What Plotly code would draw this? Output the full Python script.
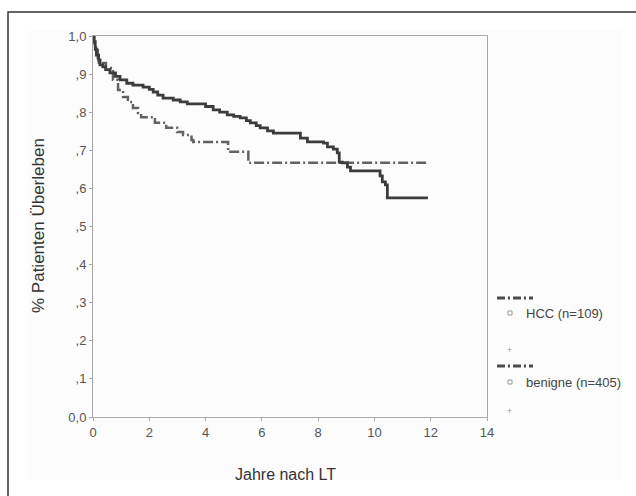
import plotly.graph_objects as go

# ---- data ----
hcc_years = [0, 0.05, 0.11, 0.17, 0.21, 0.46, 0.71, 0.89, 1.07, 1.24, 1.42, 1.60, 1.71,
             2.20, 2.60, 2.99, 3.20, 3.50, 3.56, 4.80, 5.52, 11.9]
hcc_surv = [1.0, 0.98, 0.963, 0.937, 0.929, 0.916, 0.885, 0.858, 0.840, 0.827, 0.811, 0.798, 0.787,
            0.772, 0.759, 0.748, 0.740, 0.727, 0.722, 0.696, 0.667, 0.667]

ben_years = [0, 0.03, 0.08, 0.12, 0.20, 0.25, 0.35, 0.45, 0.60, 0.80, 0.96, 1.20, 1.42, 1.78,
             2.00, 2.14, 2.30, 2.49, 2.85, 3.10, 3.35, 4.00, 4.27, 4.50, 4.77, 5.00, 5.23, 5.45,
             5.59, 5.80, 5.94, 6.20, 6.41, 7.37, 7.62, 8.19, 8.33, 8.54, 8.68, 8.75, 8.86, 9.04,
             9.15, 10.20, 10.28, 10.39, 10.46, 11.9]
ben_surv = [1.0, 0.985, 0.965, 0.950, 0.937, 0.924, 0.919, 0.912, 0.903, 0.894, 0.885, 0.876, 0.871, 0.866,
            0.860, 0.853, 0.845, 0.837, 0.832, 0.827, 0.822, 0.815, 0.806, 0.800, 0.793, 0.789, 0.785, 0.778,
            0.772, 0.765, 0.759, 0.751, 0.745, 0.732, 0.722, 0.719, 0.709, 0.703, 0.693, 0.669, 0.667, 0.656,
            0.646, 0.633, 0.617, 0.609, 0.575, 0.575]

y_tickvals = [0, 0.1, 0.2, 0.3, 0.4, 0.5, 0.6, 0.7, 0.8, 0.9, 1.0]
y_ticktext = ["0,0", ",1", ",2", ",3", ",4", ",5", ",6", ",7", ",8", ",9", "1,0"]
x_tickvals = [0, 2, 4, 6, 8, 10, 12, 14]

legend_labels = ["HCC (n=109)", "benigne (n=405)"]

FONT = "Liberation Sans, Arial, sans-serif"

fig = go.Figure()
fig.add_trace(go.Scatter(x=hcc_years, y=hcc_surv, mode="lines", line_shape="hv",
                         line=dict(color="#626262", width=2.5, dash="10px,3px,2px,3px"),
                         showlegend=False, hoverinfo="skip"))
fig.add_trace(go.Scatter(x=ben_years, y=ben_surv, mode="lines", line_shape="hv",
                         line=dict(color="#3c3c3c", width=2.8),
                         showlegend=False, hoverinfo="skip"))

L, R, T, B = 93, 487, 36, 417
W, H = 636, 496
pw, ph = R - L, B - T


def px(x):
    return (x - L) / pw


def py(y):
    return (B - y) / ph


shapes = [
    # light background panel
    dict(type="rect", xref="paper", yref="paper", x0=px(28), x1=px(622), y0=py(480), y1=py(30),
         fillcolor="#fcfcfc", line=dict(width=0), layer="below"),
    # outer dark frame (clipped on right and bottom)
    dict(type="rect", xref="paper", yref="paper", x0=px(8), x1=px(700), y0=py(560), y1=py(12),
         fillcolor="rgba(0,0,0,0)", line=dict(color="#333333", width=1.5), layer="below"),
]

annotations = [
    dict(text="% Patienten Überleben", xref="paper", yref="paper", x=px(38), y=py(226),
         textangle=-90, showarrow=False, font=dict(family=FONT, size=17, color="#333333"),
         xanchor="center", yanchor="middle"),
    dict(text="Jahre nach LT", xref="paper", yref="paper", x=px(285), y=py(474),
         showarrow=False, font=dict(family=FONT, size=16, color="#333333"),
         xanchor="center", yanchor="middle"),
]

# custom legend
for i, (ly, label) in enumerate(zip([298, 366], legend_labels)):
    shapes.append(dict(type="line", xref="paper", yref="paper", x0=px(497), x1=px(533),
                       y0=py(ly), y1=py(ly),
                       line=dict(color="#4a4a4a", width=2.8, dash="8px,3px,2px,3px")))
    sy = ly + 15 if i == 0 else ly + 16
    shapes.append(dict(type="rect", xref="paper", yref="paper", x0=px(508), x1=px(512),
                       y0=py(sy + 2), y1=py(sy - 2), line=dict(color="#999999", width=1),
                       fillcolor="rgba(0,0,0,0)"))
    annotations.append(dict(text=label, xref="paper", yref="paper", x=px(524), y=py(sy),
                            xanchor="left", yanchor="middle", showarrow=False,
                            font=dict(family=FONT, size=13, color="#444444")))
    plus_y = 350 if i == 0 else 411
    annotations.append(dict(text="+", xref="paper", yref="paper", x=px(510), y=py(plus_y),
                            xanchor="center", yanchor="middle", showarrow=False,
                            font=dict(family=FONT, size=9, color="#999999")))

fig.update_layout(
    width=W, height=H,
    margin=dict(l=L, r=W - R, t=T, b=H - B),
    paper_bgcolor="white", plot_bgcolor="#fdfdfd",
    shapes=shapes, annotations=annotations,
    xaxis=dict(range=[0, 14], tickvals=x_tickvals, showgrid=False, zeroline=False,
               showline=True, linecolor="#a8a8a8", linewidth=1, mirror=True,
               ticks="outside", ticklen=3, tickcolor="#a8a8a8",
               tickfont=dict(family=FONT, size=13, color="#555555")),
    yaxis=dict(range=[0, 1], tickvals=y_tickvals, ticktext=y_ticktext, showgrid=False,
               zeroline=False, showline=True, linecolor="#a8a8a8", linewidth=1, mirror=True,
               ticks="outside", ticklen=3, tickcolor="#a8a8a8",
               tickfont=dict(family=FONT, size=13, color="#555555")),
    showlegend=False,
)

fig.write_html("out.html", config={"displayModeBar": False},
               post_script="document.body.style.margin='0';document.body.style.overflow='hidden';")
